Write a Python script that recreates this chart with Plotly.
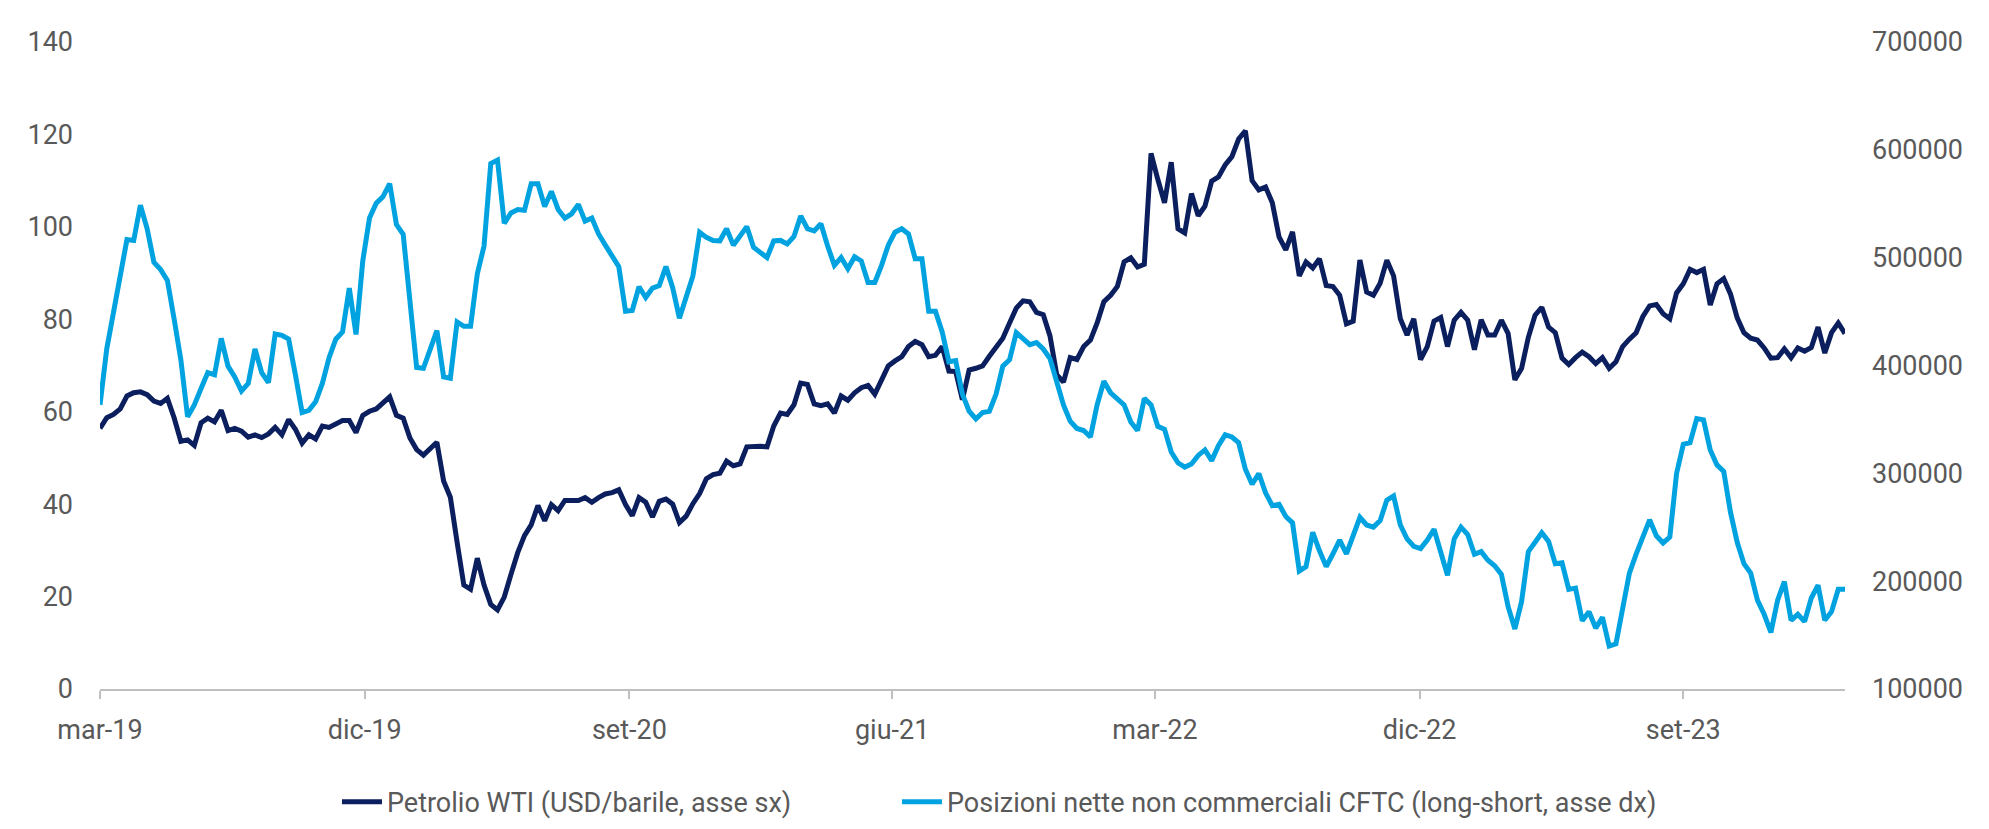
import pandas as pd
import plotly.graph_objects as go

# weekly observations, first one at the start of March 2019
START = "2019-03-01"

# WTI crude, USD per barrel (left axis)
wti = [
    56.4, 58.7, 59.4, 60.6, 63.4, 64.1, 64.3, 63.7, 62.3, 61.8, 62.9, 58.7, 53.6, 53.9, 52.7,
    57.6, 58.6, 57.8, 60.3, 55.9, 56.4, 55.8, 54.5, 55.0, 54.4, 55.2, 56.6, 55.0, 58.3, 56.2,
    53.2, 55.0, 54.1, 56.9, 56.6, 57.5, 58.1, 58.1, 55.5, 59.2, 60.1, 60.6, 61.8, 63.2, 59.2,
    58.6, 54.3, 51.8, 50.6, 52.2, 53.4, 45.0, 41.5, 31.8, 22.5, 21.6, 28.3, 22.5, 18.3, 17.1,
    19.9, 24.8, 29.5, 33.2, 35.5, 39.7, 36.4, 39.9, 38.6, 40.8, 40.8, 40.8, 41.4, 40.4, 41.4,
    42.2, 42.5, 43.1, 39.9, 37.5, 41.4, 40.4, 37.2, 40.6, 41.1, 40.0, 36.0, 37.4, 40.1,
    42.3, 45.5, 46.4, 46.7, 49.3, 48.3, 48.7, 52.4, 52.5, 52.5, 52.4, 56.9, 59.7, 59.4, 61.5,
    66.2, 65.9, 61.7, 61.3, 61.7, 59.7, 63.4, 62.5, 64.1, 65.2, 65.7, 63.8, 66.6, 69.9, 71.0,
    71.9, 74.1, 75.2, 74.5, 71.9, 72.2, 74.1, 68.8, 68.7, 62.6, 69.0, 69.4, 69.9,
    72.0, 73.8, 75.9, 79.2, 82.4, 84.0, 83.8, 81.5, 81.0, 76.4, 68.0, 66.4, 71.7, 71.3, 74.1,
    75.5, 79.2, 83.8, 85.2, 87.1, 92.4, 93.3, 91.3, 91.9, 115.9, 110.3, 105.2, 114.0, 99.6, 98.7,
    107.2, 102.4, 104.5, 109.9, 110.8, 113.4, 115.2, 119.0, 120.8, 110.0, 108.0, 108.6, 105.2, 97.8, 95.0,
    98.9, 89.4, 92.4, 91.1, 93.1, 87.3, 87.1, 85.2, 79.0, 79.6, 92.8, 85.9, 85.2, 87.8, 92.8,
    89.4, 80.1, 76.6, 80.1, 71.3, 74.1, 79.6, 80.4, 74.1, 79.8, 81.5, 79.8, 73.4, 79.9, 76.6,
    76.6, 79.8, 76.9, 66.9, 69.4, 76.1, 80.9, 82.6, 78.3, 77.1, 71.6, 70.2, 71.7, 72.9, 71.9, 70.4,
    71.7, 69.4, 70.8, 74.1, 75.7, 77.1, 80.6, 82.9, 83.2, 81.2, 80.1, 85.7, 87.7, 90.8, 90.1,
    90.8, 83.1, 87.7, 88.8, 85.5, 80.3, 77.1, 75.9, 75.5, 73.8, 71.6, 71.7, 73.6, 71.7, 73.8,
    73.1, 73.9, 78.3, 72.7, 77.1, 79.2, 76.9,
]

# CFTC non-commercial net positions, contracts (right axis)
cftc = [
    363500, 415300, 449100, 483000, 516800, 516000, 548700, 526800, 495700, 488900,
    479000, 443200, 405300, 352400, 363500, 378700, 393400, 391400, 425200, 399400,
    389400, 376300, 383400, 415300, 393400, 384200, 429200, 428000, 424400, 391400,
    356400, 358400, 366300, 383400, 407300, 424400, 431200, 471800, 428800, 496900,
    536700, 550600, 556600, 568600, 530700,
    521600, 463100, 398200, 397400, 414100, 432400, 389400, 388200, 440400, 436400,
    436400, 485000, 510800, 587300, 590500, 531900, 541500, 544700, 543900, 568600,
    568600, 547500, 561400, 544700, 536700, 540700, 549400, 533900, 536700, 522000,
    511600, 501700, 491700, 450300, 451100, 473000, 463100, 471800, 474200, 491700,
    472200, 443900, 463900,
    483000, 523600, 518800, 516000, 515600, 526800, 511600, 520000, 528800, 509600,
    504900, 500100, 515600, 516000, 512800, 519600, 538700, 526800, 524800, 531500,
    510800, 492900, 500100, 489700, 500900, 496900, 477000, 477000, 492900, 511600,
    523600, 526800, 522000, 498900, 498900, 450300, 450300, 431200, 403400, 404500,
    373500, 357600, 350400, 356400,
    357600, 373500, 399400, 405300, 430400, 425200, 419300, 421300, 415300, 406500,
    383400, 363500, 348400, 341600, 339700, 333700, 363500, 385400, 374700, 369500,
    363500, 347600, 339700, 369500, 363500, 343600, 340900, 319800, 309800, 305800,
    308600, 316600, 321700, 311800, 325700, 335700, 333700, 328500, 303800, 289900,
    299800, 281900, 270000, 271200, 260000,
    254100, 209500, 213500, 245300, 228200, 213500, 225400, 238100, 225400, 244100,
    259200, 252100, 250100, 256100, 275200, 279100, 252100, 239300, 232200, 230200,
    238100, 248100, 227400, 205500, 239300, 250100, 243300, 225000, 227400, 219400,
    214300, 206300, 176400, 155700, 181200, 227400, 236100, 244900, 236900, 216200,
    217000, 192400, 193600, 163300, 171700,
    156500, 166500, 139800, 141800, 174400, 207500, 225000, 240900, 256900, 242100,
    235400, 240900, 299800, 326900, 328500, 350800, 349600, 321700, 307800, 301800,
    264000, 236100, 216200, 207500, 182400, 169300, 152500, 182400, 199500, 163700,
    169300, 162500, 184400, 196300, 163700, 171700, 192400, 192400,
]

tick_dates = ["2019-03-01", "2019-12-01", "2020-09-01", "2021-06-01",
              "2022-03-01", "2022-12-01", "2023-09-01"]
tick_labels = ["mar-19", "dic-19", "set-20", "giu-21", "mar-22", "dic-22", "set-23"]

NAVY = "#0B1F5E"
CYAN = "#00A3E0"
GREY = "#595959"
FONT = "Roboto, Arial, sans-serif"

dates = pd.date_range(START, periods=len(wti), freq="7D")

fig = go.Figure()
# legendwidth on the first entry leaves the wide gap seen between the two items
fig.add_trace(go.Scatter(
    x=dates, y=wti, name="Petrolio WTI (USD/barile, asse sx)",
    mode="lines", line=dict(color=NAVY, width=5), legendwidth=505,
))
fig.add_trace(go.Scatter(
    x=dates, y=cftc, name="Posizioni nette non commerciali CFTC (long-short, asse dx)",
    mode="lines", line=dict(color=CYAN, width=5), yaxis="y2",
))

# the page body keeps its default 8px margin, so the figure is sized to fit
# inside the 1989x829 window without scrollbars
fig.update_layout(
    width=1973, height=813,
    paper_bgcolor="white", plot_bgcolor="white",
    margin=dict(l=92, r=136, t=34, b=132, autoexpand=False),
    font=dict(family=FONT, size=27, color=GREY),
    showlegend=True,
    legend=dict(
        orientation="h", x=0.1358, xanchor="left",
        yref="container", y=0.023, yanchor="middle",
        font=dict(size=27, color=GREY), itemwidth=40, tracegroupgap=0,
    ),
    xaxis=dict(
        type="date", range=[dates[0], dates[-1]],
        tickvals=tick_dates, ticktext=tick_labels,
        showline=True, linecolor="#BFBFBF", linewidth=2,
        ticks="outside", ticklen=8, tickcolor="#BFBFBF", tickwidth=2,
        showgrid=False, zeroline=False, ticklabelstandoff=8, automargin=False,
    ),
    yaxis=dict(
        range=[0, 140], dtick=20, showgrid=False, zeroline=False,
        showline=False, ticks="", ticklabelstandoff=26, automargin=False,
    ),
    yaxis2=dict(
        range=[100000, 700000], dtick=100000, tickformat="d",
        overlaying="y", side="right", showgrid=False, zeroline=False,
        showline=False, ticks="", ticklabelstandoff=26, automargin=False,
    ),
)

fig.write_html("out.html")
